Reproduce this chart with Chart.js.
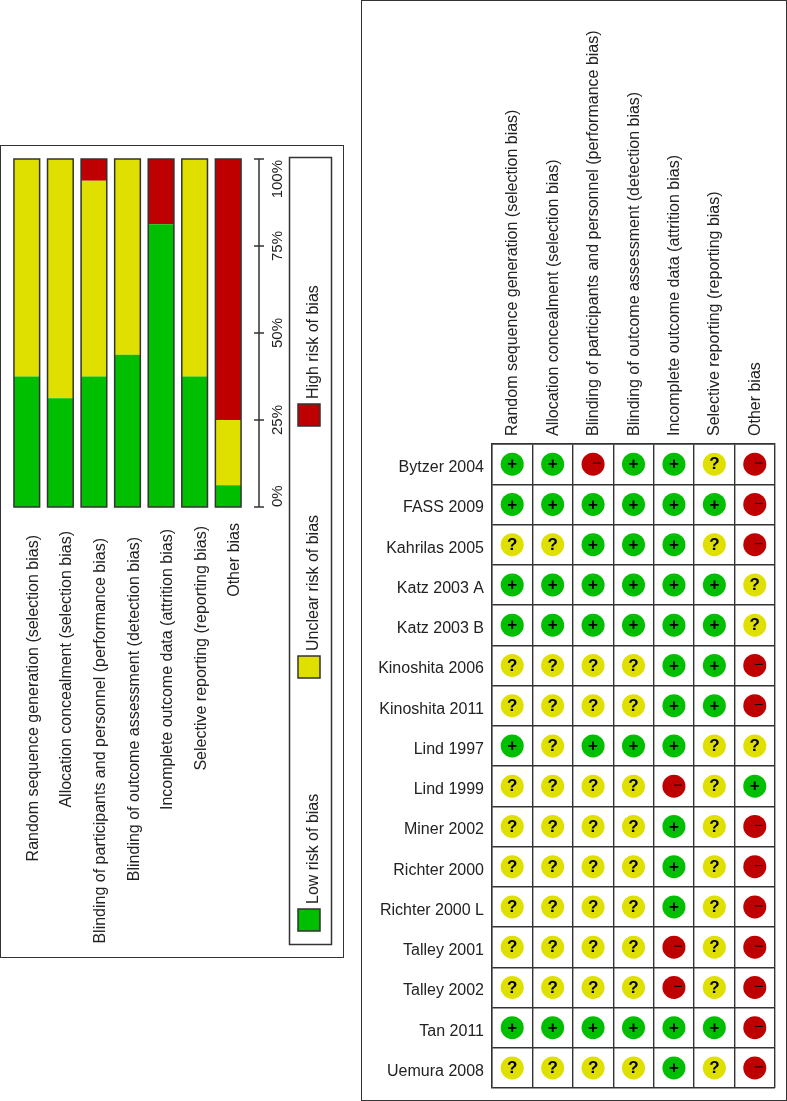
<!DOCTYPE html>
<html>
<head>
<meta charset="utf-8">
<script src="https://cdn.jsdelivr.net/npm/chart.js@4"></script>
<style>
html, body { margin: 0; padding: 0; background: #fff; }
.box { position: absolute; box-sizing: border-box; border: 1.5px solid #333; background: #fff; }
#summaryBox { left: 0; top: 145px; width: 344px; height: 813px; }
#graphBox { left: 361px; top: 0; width: 426px; height: 1101px; }
canvas { position: absolute; }
</style>
</head>
<body>
<div class="box" id="summaryBox"></div>
<div class="box" id="graphBox"></div>
<canvas id="summary" width="343" height="812" style="left:0;top:145px"></canvas>
<canvas id="graph" width="426" height="1101" style="left:361px;top:0"></canvas>
<script>
const domains = [
	'Random sequence generation (selection bias)',
	'Allocation concealment (selection bias)',
	'Blinding of participants and personnel (performance bias)',
	'Blinding of outcome assessment (detection bias)',
	'Incomplete outcome data (attrition bias)',
	'Selective reporting (reporting bias)',
	'Other bias'
];
const studies = [
	'Bytzer 2004', 'FASS 2009', 'Kahrilas 2005', 'Katz 2003 A', 'Katz 2003 B',
	'Kinoshita 2006', 'Kinoshita 2011', 'Lind 1997', 'Lind 1999', 'Miner 2002',
	'Richter 2000', 'Richter 2000 L', 'Talley 2001', 'Talley 2002', 'Tan 2011', 'Uemura 2008'
];
const yTicks = [0, 25, 50, 75, 100];

// percent of studies per domain
const lowRisk = [37.5, 31.25, 37.5, 43.75, 81.25, 37.5, 6.25];
const unclearRisk = [62.5, 68.75, 56.25, 56.25, 0, 62.5, 18.75];
const highRisk = [0, 0, 6.25, 0, 18.75, 0, 75];

// one row per study, one letter per domain: L low, U unclear, H high
const judgements = [
	['L', 'L', 'H', 'L', 'L', 'U', 'H'],
	['L', 'L', 'L', 'L', 'L', 'L', 'H'],
	['U', 'U', 'L', 'L', 'L', 'U', 'H'],
	['L', 'L', 'L', 'L', 'L', 'L', 'U'],
	['L', 'L', 'L', 'L', 'L', 'L', 'U'],
	['U', 'U', 'U', 'U', 'L', 'L', 'H'],
	['U', 'U', 'U', 'U', 'L', 'L', 'H'],
	['L', 'U', 'L', 'L', 'L', 'U', 'U'],
	['U', 'U', 'U', 'U', 'H', 'U', 'L'],
	['U', 'U', 'U', 'U', 'L', 'U', 'H'],
	['U', 'U', 'U', 'U', 'L', 'U', 'H'],
	['U', 'U', 'U', 'U', 'L', 'U', 'H'],
	['U', 'U', 'U', 'U', 'H', 'U', 'H'],
	['U', 'U', 'U', 'U', 'H', 'U', 'H'],
	['L', 'L', 'L', 'L', 'L', 'L', 'H'],
	['U', 'U', 'U', 'U', 'L', 'U', 'H']
];

const GREEN = '#00BF00';
const YELLOW = '#E0E000';
const RED = '#BF0000';
const INK = '#222';
const FONT = '"Liberation Sans", Arial, sans-serif';

Chart.defaults.font.family = FONT;
Chart.defaults.animation = false;
Chart.defaults.responsive = false;

function upText(ctx, text, x, y, align, size) {
	ctx.save();
	ctx.translate(x, y);
	ctx.rotate(-Math.PI / 2);
	ctx.textAlign = align;
	ctx.textBaseline = 'alphabetic';
	ctx.font = size + 'px ' + FONT;
	ctx.fillStyle = INK;
	ctx.fillText(text, 0, 0);
	ctx.restore();
}

// the labels do not line up at the top in the original, so each has its own end
const labelEnds = [390, 386, 393, 392, 384, 381, 378];

// the rotated labels, the detached axis and the legend of the summary panel
const summaryDecor = {
	id: 'summaryDecor',
	afterDraw(chart) {
		const ctx = chart.ctx;
		const x = chart.scales.x;
		const y = chart.scales.y;

		// dark outline round each whole bar
		const bottom = chart.getDatasetMeta(0).data;
		const top = chart.getDatasetMeta(2).data;
		ctx.strokeStyle = '#333';
		ctx.lineWidth = 1.5;
		bottom.forEach((bar, i) => {
			const half = bar.width / 2;
			ctx.strokeRect(bar.x - half, top[i].y, bar.width, bar.base - top[i].y);
		});

		// category labels sit to the right of their bars
		domains.forEach((name, i) => {
			upText(ctx, name, x.getPixelForValue(i) + 11, labelEnds[i], 'right', 16);
		});

		// value axis
		ctx.beginPath();
		ctx.moveTo(259, y.getPixelForValue(0));
		ctx.lineTo(259, y.getPixelForValue(100));
		yTicks.forEach(t => {
			ctx.moveTo(254, y.getPixelForValue(t));
			ctx.lineTo(264, y.getPixelForValue(t));
		});
		ctx.stroke();
		yTicks.forEach(t => {
			const pos = y.getPixelForValue(t);
			if (t === 0) upText(ctx, t + '%', 282, pos, 'left', 15);
			else if (t === 100) upText(ctx, t + '%', 282, pos + 1, 'right', 15);
			else upText(ctx, t + '%', 282, pos, 'center', 15);
		});

		// legend
		ctx.strokeRect(289.5, 12.5, 42, 787);
		const swatchTops = [764, 511, 259];
		chart.data.datasets.forEach((ds, i) => {
			ctx.fillStyle = ds.backgroundColor;
			ctx.fillRect(298, swatchTops[i], 22, 22);
			ctx.strokeRect(298, swatchTops[i], 22, 22);
			upText(ctx, ds.label, 318, swatchTops[i] - 5, 'left', 16);
		});
	}
};

new Chart(document.getElementById('summary'), {
	type: 'bar',
	plugins: [summaryDecor],
	data: {
		labels: domains,
		datasets: [
			{ label: 'Low risk of bias', data: lowRisk, backgroundColor: GREEN },
			{ label: 'Unclear risk of bias', data: unclearRisk, backgroundColor: YELLOW },
			{ label: 'High risk of bias', data: highRisk, backgroundColor: RED }
		]
	},
	options: {
		layout: { padding: { left: 10, right: 98, top: 14, bottom: 450 } },
		datasets: { bar: { barPercentage: 1, categoryPercentage: 0.765 } },
		plugins: { legend: { display: false }, tooltip: { enabled: false } },
		scales: {
			x: { stacked: true, display: false },
			y: { stacked: true, display: false, min: 0, max: 100 }
		}
	}
});

function pointsFor(code) {
	const pts = [];
	judgements.forEach((row, r) => {
		row.forEach((j, c) => {
			if (j === code) pts.push({ x: domains[c], y: studies[r] });
		});
	});
	return pts;
}

// the +, ? and - inside each circle, and the labels of both axes
const graphDecor = {
	id: 'graphDecor',
	afterDatasetsDraw(chart) {
		const ctx = chart.ctx;
		ctx.save();
		ctx.fillStyle = '#000';
		ctx.textAlign = 'center';
		ctx.textBaseline = 'middle';
		chart.data.datasets.forEach((ds, d) => {
			chart.getDatasetMeta(d).data.forEach(pt => {
				if (ds.glyph === '-') {
					ctx.fillRect(pt.x, pt.y - 1.5, 8, 1);
				} else {
					ctx.font = 'bold 17px ' + FONT;
					ctx.fillText(ds.glyph, pt.x, pt.y + 0.5);
				}
			});
		});
		ctx.restore();

		const { x, y } = chart.scales;
		domains.forEach((name, i) => {
			upText(ctx, name, x.getPixelForTick(i) + 5, 436, 'left', 16);
		});
		ctx.save();
		ctx.font = '16px ' + FONT;
		ctx.fillStyle = INK;
		ctx.textAlign = 'right';
		studies.forEach((name, i) => {
			ctx.fillText(name, 123, y.getPixelForTick(i) + 8);
		});
		ctx.restore();
	}
};

function circles(label, code, color, glyph) {
	return {
		label, glyph,
		data: pointsFor(code),
		backgroundColor: color,
		borderWidth: 0,
		pointRadius: 11.5,
		pointHoverRadius: 11.5
	};
}

new Chart(document.getElementById('graph'), {
	type: 'scatter',
	plugins: [graphDecor],
	data: {
		datasets: [
			circles('Low risk of bias', 'L', GREEN, '+'),
			circles('Unclear risk of bias', 'U', YELLOW, '?'),
			circles('High risk of bias', 'H', RED, '-')
		]
	},
	options: {
		layout: { padding: { left: 0, right: 12, top: 0, bottom: 13 } },
		plugins: { legend: { display: false }, tooltip: { enabled: false } },
		scales: {
			x: {
				type: 'category',
				position: 'top',
				labels: domains,
				offset: true,
				afterFit(s) { s.height = 444; },
				grid: { offset: true, color: '#333', lineWidth: 1.4, drawTicks: false },
				border: { color: '#333', width: 1.4 },
				ticks: { display: false }
			},
			y: {
				type: 'category',
				labels: studies,
				offset: true,
				afterFit(s) { s.width = 131; },
				grid: { offset: true, color: '#333', lineWidth: 1.4, drawTicks: false },
				border: { color: '#333', width: 1.4 },
				ticks: { display: false }
			}
		}
	}
});
</script>
</body>
</html>
